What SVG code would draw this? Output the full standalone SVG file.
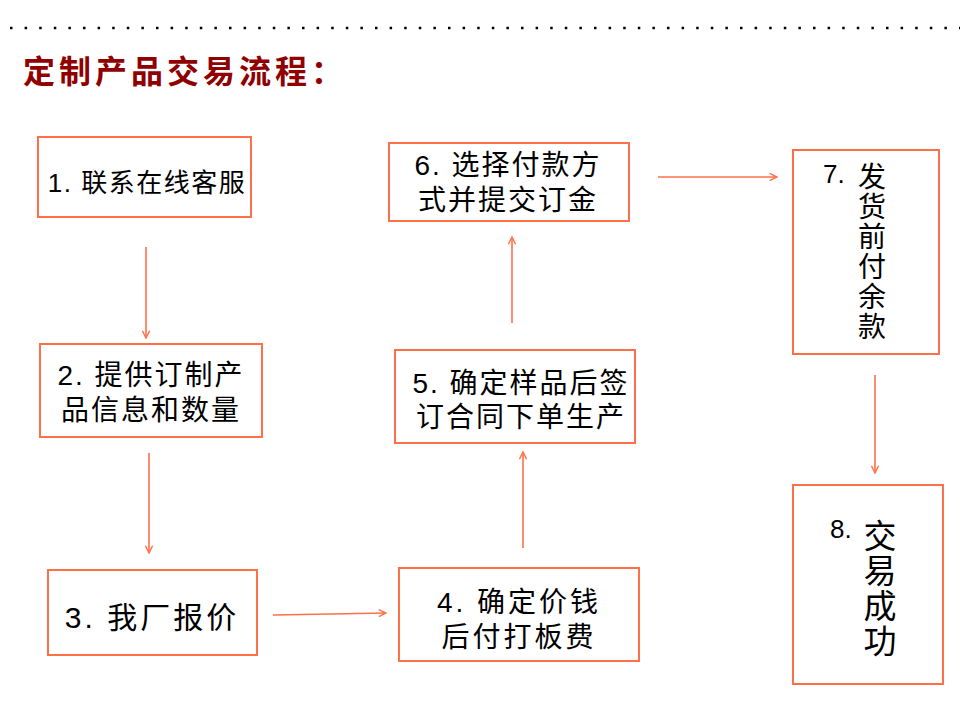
<svg xmlns="http://www.w3.org/2000/svg" width="960" height="720" viewBox="0 0 960 720">
<defs>
<style>
.box{fill:#ffffff;stroke:#FF7048;stroke-width:2}
.t{font-family:"Liberation Sans","Noto Sans CJK SC",sans-serif;fill:#000000;text-anchor:middle}
.v{font-family:"Noto Sans CJK SC",sans-serif;fill:#000000;writing-mode:vertical-rl;text-anchor:start}
.n{font-family:"Liberation Sans","Noto Sans CJK SC",sans-serif;fill:#000000}
.c{stroke:#FF7048;stroke-width:1.6;fill:none}
</style>
<marker id="ah" viewBox="0 0 10 10" refX="9" refY="5" markerWidth="9" markerHeight="9" markerUnits="userSpaceOnUse" orient="auto">
<path d="M1,1 L9,5 L1,9" fill="none" stroke="#FF7048" stroke-width="1.6"/>
</marker>
</defs>
<rect width="960" height="720" fill="#ffffff"/>
<line x1="10" y1="28" x2="960" y2="28" stroke="#000000" stroke-width="2.5" stroke-dasharray="2.5 12.1"/>
<text x="23" y="83" font-family="'Noto Sans CJK SC',sans-serif" font-size="32" font-weight="bold" letter-spacing="4" fill="#900000">定制产品交易流程：</text>

<g id="connectors">
<line class="c" x1="146" y1="247" x2="146" y2="338" marker-end="url(#ah)"/>
<line class="c" x1="149" y1="453" x2="149" y2="553" marker-end="url(#ah)"/>
<line class="c" x1="273" y1="615" x2="386" y2="613" marker-end="url(#ah)"/>
<line class="c" x1="523" y1="548" x2="523" y2="452" marker-end="url(#ah)"/>
<line class="c" x1="512" y1="323" x2="512" y2="237" marker-end="url(#ah)"/>
<line class="c" x1="658" y1="177" x2="777" y2="177" marker-end="url(#ah)"/>
<line class="c" x1="875" y1="375" x2="875" y2="473" marker-end="url(#ah)"/>
</g>

<g id="node1">
<rect class="box" x="38" y="137" width="213" height="80"/>
<text class="t" x="147" y="192" font-size="26" letter-spacing="1.5">1. 联系在线客服</text>
</g>
<g id="node2">
<rect class="box" x="40" y="344" width="222" height="93"/>
<text class="t" x="151" y="385" font-size="28" letter-spacing="2">2. 提供订制产</text>
<text class="t" x="151" y="420" font-size="28" letter-spacing="2">品信息和数量</text>
</g>
<g id="node3">
<rect class="box" x="48" y="570" width="209" height="85"/>
<text class="t" x="152" y="628" font-size="30" letter-spacing="3">3. 我厂报价</text>
</g>
<g id="node4">
<rect class="box" x="399" y="568" width="240" height="93"/>
<text class="t" x="519" y="612" font-size="28" letter-spacing="3">4. 确定价钱</text>
<text class="t" x="519" y="647" font-size="28" letter-spacing="3">后付打板费</text>
</g>
<g id="node5">
<rect class="box" x="395" y="350" width="240" height="93"/>
<text class="t" x="521" y="393" font-size="28" letter-spacing="2">5. 确定样品后签</text>
<text class="t" x="521" y="427" font-size="28" letter-spacing="2">订合同下单生产</text>
</g>
<g id="node6">
<rect class="box" x="389" y="143" width="240" height="78"/>
<text class="t" x="508" y="175" font-size="28" letter-spacing="2">6. 选择付款方</text>
<text class="t" x="508" y="210" font-size="28" letter-spacing="2">式并提交订金</text>
</g>
<g id="node7">
<rect class="box" x="793" y="150" width="146" height="204"/>
<text class="n" x="823" y="183" font-size="26">7.</text>
<text class="v" x="872" y="162" font-size="28" letter-spacing="2">发货前付余款</text>
</g>
<g id="node8">
<rect class="box" x="793" y="485" width="150" height="199"/>
<text class="n" x="830" y="538" font-size="26">8.</text>
<text class="v" x="880" y="519" font-size="33" letter-spacing="2">交易成功</text>
</g>
</svg>
